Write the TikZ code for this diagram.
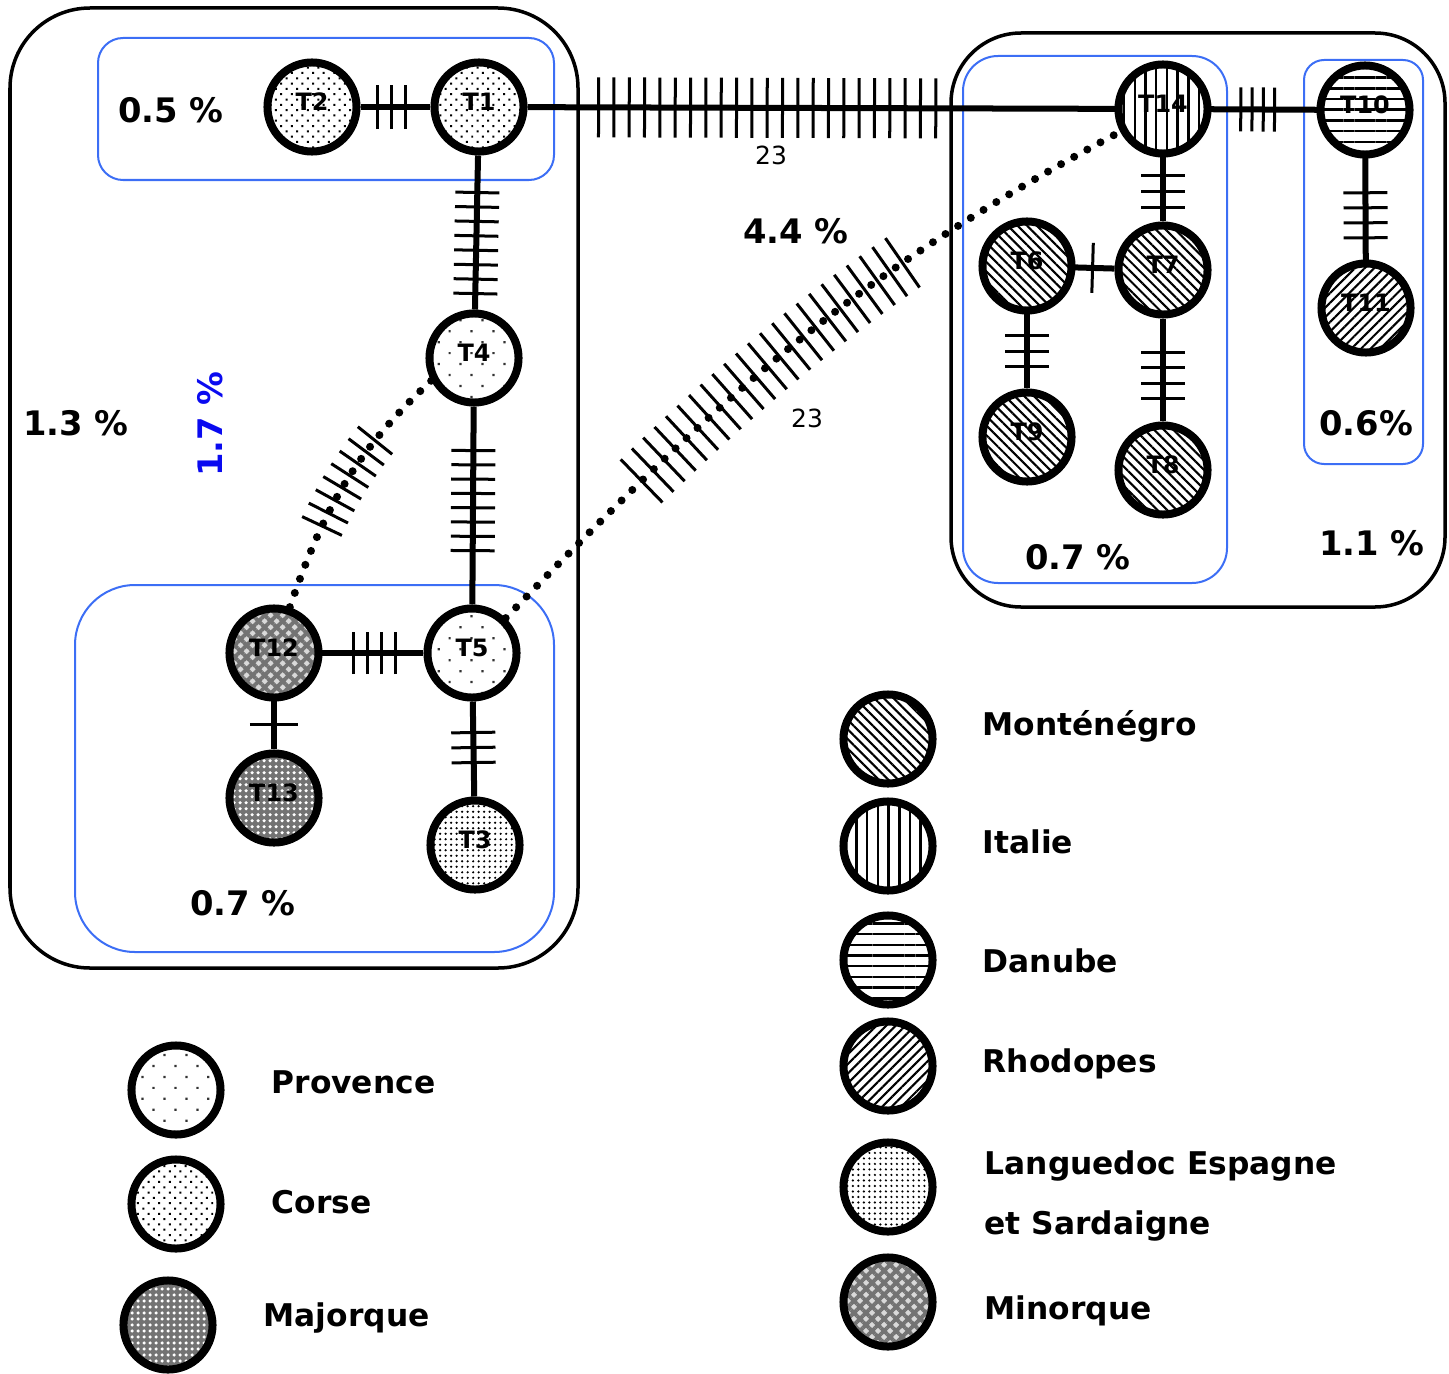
\documentclass[tikz,border=0pt]{standalone}
\usepackage{fontspec}
\setmainfont{DejaVu Sans}
\usetikzlibrary{patterns.meta, decorations.markings}
\definecolor{boxblue}{HTML}{3C6EF5}
\definecolor{pctblue}{HTML}{0A0AF0}
\tikzstyle{hap}=[circle,draw=black,line width=0.08cm,minimum size=0.89cm,inner sep=0pt,
  preaction={fill=white},font=\fontsize{6.8}{7}\selectfont\bfseries,text depth=0.1cm]
\tikzstyle{provence}=[pattern={Dots[distance=0.155cm,angle=45,radius=0.45pt]},pattern color=black!80]
\tikzstyle{corse}=[pattern={Dots[distance=0.075cm,angle=45,radius=0.4pt]}]
\tikzstyle{languedoc}=[pattern={Dots[distance=0.055cm,radius=0.35pt]}]
\tikzstyle{minorque}=[preaction={fill=black!15},pattern={Hatch[angle=45,distance=0.085cm,line width=1.1pt]},pattern color=black!55]
\tikzstyle{majorque}=[preaction={fill=black!55},pattern={Dots[distance=0.06cm,radius=0.5pt]},pattern color=white]
\tikzstyle{montenegro}=[pattern={Lines[angle=-45,distance=0.068cm,line width=0.6pt]}]
\tikzstyle{italie}=[pattern={Lines[angle=90,distance=0.107cm,line width=0.7pt]}]
\tikzstyle{danube}=[pattern={Lines[angle=0,distance=0.107cm,line width=0.7pt]}]
\tikzstyle{rhodopes}=[pattern={Lines[angle=45,distance=0.068cm,line width=0.6pt]}]
\tikzstyle{link}=[line width=0.06cm]
\tikzstyle{dotlink}=[line width=0.08cm,line cap=round,dash pattern=on 0pt off 0.15cm]
\tikzstyle{mutline}=[solid,line width=0.03cm,line cap=butt]
\tikzstyle{groupbox}=[line width=0.035cm]
\tikzstyle{popbox}=[draw=boxblue,line width=0.02cm]
\tikzstyle{pct}=[font=\fontsize{9.6}{11}\selectfont\bfseries,inner sep=0pt]
\tikzstyle{cnt}=[font=\fontsize{7.1}{9}\selectfont,inner sep=0pt]
\tikzstyle{legtxt}=[font=\fontsize{8.9}{16.8}\selectfont\bfseries,anchor=west,inner sep=0pt,align=left]
\tikzset{muts/.style n args={4}{postaction={decorate,decoration={markings,
  mark=between positions #1 and #2 step #3 with {\draw[mutline] (0pt,-#4) -- (0pt,#4);}}}}}

\begin{document}
\begin{tikzpicture}[x=0.01cm,y=-0.01cm]
  \useasboundingbox (0,0) rectangle (1449,1373);
  % groups
  \draw[groupbox,rounded corners=0.8cm] (10,8) rectangle (578,968);
  \draw[groupbox,rounded corners=0.7cm] (951,33) rectangle (1445,607);
  \draw[popbox,rounded corners=0.25cm] (98,38) rectangle (554,180);
  \draw[popbox,rounded corners=0.6cm] (75,585) rectangle (554,952);
  \draw[popbox,rounded corners=0.35cm] (963,56) rectangle (1227,583);
  \draw[popbox,rounded corners=0.2cm] (1304,60) rectangle (1423,464);
  % haplotypes
  \node[hap,corse] (T2) at (312,107) {T2};
  \node[hap,corse] (T1) at (479,107) {T1};
  \node[hap,provence] (T4) at (474,358) {T4};
  \node[hap,provence] (T5) at (472,653) {T5};
  \node[hap,minorque] (T12) at (274,653) {T12};
  \node[hap,majorque] (T13) at (274,798) {T13};
  \node[hap,languedoc] (T3) at (475,845) {T3};
  \node[hap,italie] (T14) at (1163,109) {T14};
  \node[hap,danube] (T10) at (1365,110) {T10};
  \node[hap,montenegro] (T6) at (1027,266) {T6};
  \node[hap,montenegro] (T7) at (1163,270) {T7};
  \node[hap,montenegro] (T9) at (1027,437) {T9};
  \node[hap,montenegro] (T8) at (1163,470) {T8};
  \node[hap,rhodopes] (T11) at (1366,308) {T11};
  % links with mutation steps
  \draw[link,muts={0.17cm}{0.46cm}{0.14cm}{0.22cm}] (T2) -- (T1);
  \draw[link,muts={0.71cm}{4.10cm}{0.1532cm}{0.30cm}] (T1) -- (T14);
  \draw[link,muts={0.32cm}{0.77cm}{0.1125cm}{0.22cm}] (T14) -- (T10);
  \draw[link,muts={0.37cm}{1.39cm}{0.1443cm}{0.22cm}] (T1) -- (T4);
  \draw[link,muts={0.44cm}{1.45cm}{0.1429cm}{0.22cm}] (T4) -- (T5);
  \draw[link,muts={0.33cm}{0.76cm}{0.14cm}{0.21cm}] (T12) -- (T5);
  \draw[link,muts={0.25cm}{0.255cm}{0.1cm}{0.24cm}] (T12) -- (T13);
  \draw[link,muts={0.31cm}{0.62cm}{0.15cm}{0.22cm}] (T5) -- (T3);
  \draw[link,muts={0.21cm}{0.54cm}{0.16cm}{0.22cm}] (T14) -- (T7);
  \draw[link,muts={0.20cm}{0.205cm}{0.1cm}{0.25cm}] (T6) -- (T7);
  \draw[link,muts={0.24cm}{0.56cm}{0.155cm}{0.22cm}] (T6) -- (T9);
  \draw[link,muts={0.34cm}{0.81cm}{0.153cm}{0.22cm}] (T7) -- (T8);
  \draw[link,muts={0.37cm}{0.83cm}{0.15cm}{0.22cm}] (T10) -- (T11);
  \draw[dotlink,muts={0.82cm}{1.84cm}{0.144cm}{0.22cm}] (T4.208) to[out=223,in=71] (T12.71);
  \draw[dotlink,muts={1.93cm}{5.35cm}{0.1545cm}{0.30cm}] (T5.46) to[out=46,in=208] (T14.208);
  \node[cnt] (n23top) at (771,155) {23};
  \node[cnt] (n23diag) at (807,418) {23};
  % percentages
  \node[pct] (p05) at (171,110) {0.5 \%};
  \node[pct] (p13) at (76,423) {1.3 \%};
  \node[pct,text=pctblue,rotate=90] (p17) at (210,424) {1.7 \%};
  \node[pct] (p07a) at (243,903) {0.7 \%};
  \node[pct] (p44) at (796,231) {4.4 \%};
  \node[pct] (p07b) at (1078,557) {0.7 \%};
  \node[pct] (p06) at (1366,423) {0.6\%};
  \node[pct] (p11) at (1372,543) {1.1 \%};
  % legend
  \node[hap,provence] (lgProv) at (176,1090) {};
  \node[legtxt] (txProv) at (271,1082) {Provence};
  \node[hap,corse] (lgCorse) at (176,1204) {};
  \node[legtxt] (txCorse) at (271,1202) {Corse};
  \node[hap,majorque] (lgMaj) at (168,1325) {};
  \node[legtxt] (txMaj) at (263,1318) {Majorque};
  \node[hap,montenegro] (lgMont) at (888,739) {};
  \node[legtxt] (txMont) at (982,726) {Monténégro};
  \node[hap,italie] (lgIt) at (888,846) {};
  \node[legtxt] (txIt) at (982,842) {Italie};
  \node[hap,danube] (lgDan) at (888,960) {};
  \node[legtxt] (txDan) at (982,961) {Danube};
  \node[hap,rhodopes] (lgRho) at (888,1066) {};
  \node[legtxt] (txRho) at (982,1064) {Rhodopes};
  \node[hap,languedoc] (lgLang) at (888,1187) {};
  \node[legtxt] (txLang) at (984,1196) {Languedoc Espagne\\et Sardaigne};
  \node[hap,minorque] (lgMin) at (888,1302) {};
  \node[legtxt] (txMin) at (984,1311) {Minorque};
\end{tikzpicture}
\end{document}
